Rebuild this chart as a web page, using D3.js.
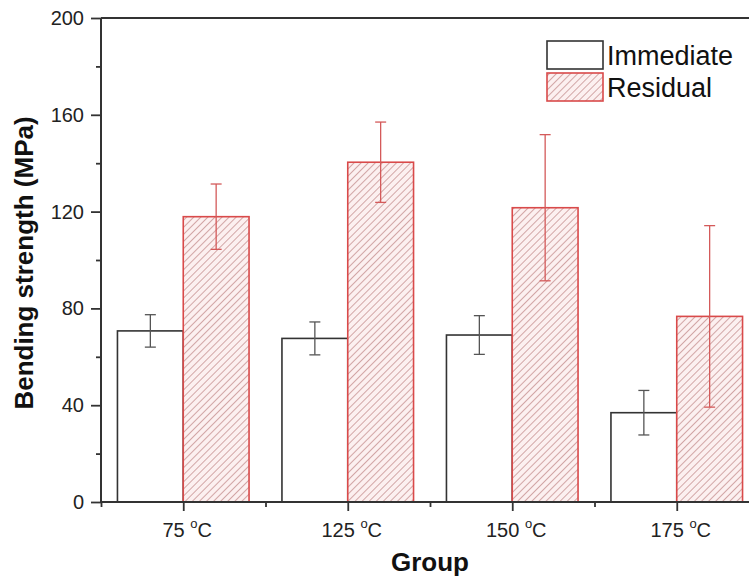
<!DOCTYPE html>
<html>
<head>
<meta charset="utf-8">
<script src="https://cdnjs.cloudflare.com/ajax/libs/d3/7.8.5/d3.min.js"></script>
<style>
    body { margin: 0; background: #fff; }
    svg { display: block; font-family: 'Liberation Sans', Arial, sans-serif; }
</style>
</head>
<body>
<svg></svg>
<script>
// Data

let groups = ['75', '125', '150', '175']
let immediate = [70.7, 67.6, 69.0, 36.9]
let immediateErr = [6.7, 6.8, 8.0, 9.2]
let residual = [117.9, 140.4, 121.6, 76.7]
let residualErr = [13.5, 16.6, 30.2, 37.5]
let yTicks = [0, 40, 80, 120, 160, 200]
let yMinor = [20, 60, 100, 140, 180]
let seriesNames = ['Immediate', 'Residual']

let width = 749
let height = 577
let plotLeft = 101
let plotTop = 18
let plotBottom = 502
let step = 164.5

let svg = d3.select('svg')
let xScale
let yScale

let drawCanvas = () => {
    svg.attr('width', width)
    svg.attr('height', height)

    let defs = svg.append('defs')
    let pat = defs.append('pattern')
        .attr('id', 'hatch')
        .attr('patternUnits', 'userSpaceOnUse')
        .attr('width', 5)
        .attr('height', 5)
        .attr('patternTransform', 'rotate(45)')
    pat.append('rect')
        .attr('width', 5)
        .attr('height', 5)
        .attr('fill', '#fcf0f0')
    pat.append('line')
        .attr('x1', 0).attr('y1', 0)
        .attr('x2', 0).attr('y2', 5)
        .attr('stroke', '#b06868')
        .attr('stroke-width', 1.1)
}

let generateScales = () => {
    xScale = d3.scaleLinear()
                .domain([-0.5, groups.length - 0.5])
                .range([plotLeft, plotLeft + step * groups.length])
    yScale = d3.scaleLinear()
                .domain([0, 200])
                .range([plotBottom, plotTop])
}

let drawBars = () => {
    // immediate: white boxes left of the tick
    svg.selectAll('.imm')
        .data(immediate)
        .enter()
        .append('rect')
        .attr('class', 'imm')
        .attr('x', (d, i) => xScale(i - 0.4))
        .attr('y', (d) => yScale(d))
        .attr('width', (d, i) => xScale(i) - xScale(i - 0.4))
        .attr('height', (d) => yScale(0) - yScale(d))
        .attr('fill', '#fff')
        .attr('stroke', '#333')
        .attr('stroke-width', 1.6)

    // residual: hatched red boxes right of the tick
    svg.selectAll('.res')
        .data(residual)
        .enter()
        .append('rect')
        .attr('class', 'res')
        .attr('x', (d, i) => xScale(i))
        .attr('y', (d) => yScale(d))
        .attr('width', (d, i) => xScale(i + 0.4) - xScale(i))
        .attr('height', (d) => yScale(0) - yScale(d))
        .attr('fill', 'url(#hatch)')
        .attr('stroke', '#d94a4a')
        .attr('stroke-width', 1.6)
}

let drawErrors = (values, errs, offset, color) => {
    let cap = 5.5
    values.forEach((v, i) => {
        let cx = xScale(i + offset)
        let g = svg.append('g')
            .attr('stroke', color)
            .attr('stroke-width', 1.3)
        g.append('line')
            .attr('x1', cx).attr('x2', cx)
            .attr('y1', yScale(v + errs[i])).attr('y2', yScale(v - errs[i]))
        g.append('line')
            .attr('x1', cx - cap).attr('x2', cx + cap)
            .attr('y1', yScale(v + errs[i])).attr('y2', yScale(v + errs[i]))
        g.append('line')
            .attr('x1', cx - cap).attr('x2', cx + cap)
            .attr('y1', yScale(v - errs[i])).attr('y2', yScale(v - errs[i]))
    })
}

let generateAxes = () => {
    let axisColor = '#333'

    let yAxis = d3.axisLeft(yScale)
                    .tickValues(yTicks)
                    .tickSize(10)
                    .tickPadding(7)
    let yg = svg.append('g')
        .attr('transform', 'translate(' + plotLeft + ', 0)')
        .call(yAxis)
    yg.select('.domain').remove()
    yg.selectAll('line').attr('stroke', axisColor).attr('stroke-width', 1.8)
    yg.selectAll('text')
        .attr('font-size', 20)
        .attr('fill', '#222')
        .attr('font-family', "'Liberation Sans', Arial, sans-serif")

    let yMinorAxis = d3.axisLeft(yScale).tickValues(yMinor).tickSize(5).tickFormat('')
    let ym = svg.append('g')
        .attr('transform', 'translate(' + plotLeft + ', 0)')
        .call(yMinorAxis)
    ym.select('.domain').remove()
    ym.selectAll('line').attr('stroke', axisColor).attr('stroke-width', 1.8)

    let xAxis = d3.axisBottom(xScale)
                    .tickValues(d3.range(groups.length))
                    .tickSize(9)
                    .tickFormat('')
    let xg = svg.append('g')
        .attr('transform', 'translate(0, ' + plotBottom + ')')
        .call(xAxis)
    xg.select('.domain').remove()
    xg.selectAll('line').attr('stroke', axisColor).attr('stroke-width', 1.8)

    let xMinorAxis = d3.axisBottom(xScale)
                    .tickValues(d3.range(groups.length + 1).map((i) => i - 0.5))
                    .tickSize(5)
                    .tickFormat('')
    let xm = svg.append('g')
        .attr('transform', 'translate(0, ' + plotBottom + ')')
        .call(xMinorAxis)
    xm.select('.domain').remove()
    xm.selectAll('line').attr('stroke', axisColor).attr('stroke-width', 1.8)

    // category labels with superscript degree "o"
    let labels = svg.selectAll('.xlab')
        .data(groups)
        .enter()
        .append('text')
        .attr('class', 'xlab')
        .attr('x', (d, i) => xScale(i) + 4)
        .attr('y', 537)
        .attr('text-anchor', 'middle')
        .attr('font-size', 20)
        .attr('fill', '#222')
    labels.append('tspan').text((d) => d + ' ')
    labels.append('tspan').text('o').attr('font-size', 13).attr('dy', -9)
    labels.append('tspan').text('C').attr('dy', 9)

    // frame lines: left, bottom, top
    svg.append('line')
        .attr('x1', plotLeft).attr('x2', plotLeft)
        .attr('y1', plotTop).attr('y2', plotBottom)
        .attr('stroke', axisColor).attr('stroke-width', 2)
    svg.append('line')
        .attr('x1', plotLeft).attr('x2', xScale(groups.length - 0.5))
        .attr('y1', plotBottom).attr('y2', plotBottom)
        .attr('stroke', axisColor).attr('stroke-width', 2)
    svg.append('line')
        .attr('x1', plotLeft).attr('x2', xScale(groups.length - 0.5))
        .attr('y1', plotTop).attr('y2', plotTop)
        .attr('stroke', axisColor).attr('stroke-width', 2)

    svg.append('text')
        .attr('x', (plotLeft + xScale(groups.length - 0.5)) / 2)
        .attr('y', 571)
        .attr('text-anchor', 'middle')
        .attr('font-size', 26)
        .attr('font-weight', 'bold')
        .attr('fill', '#111')
        .text('Group')

    svg.append('text')
        .attr('transform', 'translate(33, 263) rotate(-90)')
        .attr('text-anchor', 'middle')
        .attr('font-size', 26)
        .attr('font-weight', 'bold')
        .attr('fill', '#111')
        .text('Bending strength (MPa)')
}

let drawLegend = () => {
    let fills = ['#fff', 'url(#hatch)']
    let strokes = ['#333', '#d94a4a']
    let lg = svg.append('g')
    seriesNames.forEach((name, i) => {
        lg.append('rect')
            .attr('x', 547)
            .attr('y', 41 + i * 32)
            .attr('width', 56)
            .attr('height', 28)
            .attr('fill', fills[i])
            .attr('stroke', strokes[i])
            .attr('stroke-width', 1.6)
        lg.append('text')
            .attr('x', 607)
            .attr('y', 65 + i * 32)
            .attr('font-size', 27)
            .attr('fill', '#111')
            .text(name)
    })
}

drawCanvas()
generateScales()
drawBars()
drawErrors(immediate, immediateErr, -0.2, '#555')
drawErrors(residual, residualErr, 0.2, '#d45a5a')
generateAxes()
drawLegend()
</script>
</body>
</html>
